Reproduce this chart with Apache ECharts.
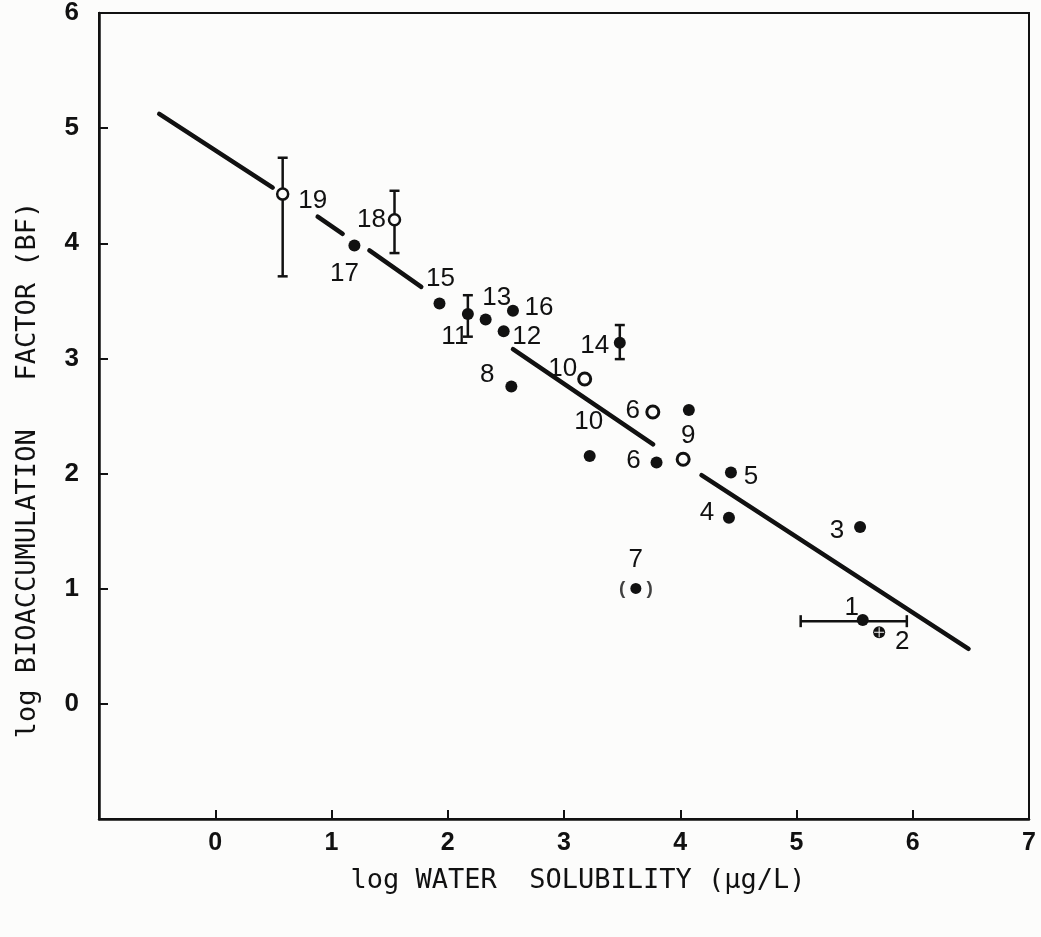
<!DOCTYPE html>
<html><head><meta charset="utf-8">
<script src="https://cdn.jsdelivr.net/npm/echarts@6/dist/echarts.min.js"></script>
<style>html,body{margin:0;padding:0;background:#fcfcfb}#c{width:1041px;height:937px}</style>
</head><body><div id="c"></div>
<script>
// ---- data ----
const pointIds    = ['1','2','3','4','5','6','6o','7','8','9','9f','10','10o','11','12','13','14','15','16','17','18','19'];
const pointLabels = ['1','2','3','4','5','6','6','7','8','9','','10','10','11','12','13','14','15','16','17','18','19'];
const logSolubility = [5.570,5.711,5.547,4.419,4.436,3.796,3.764,3.618,2.547,4.025,4.074,3.221,3.178,2.173,2.481,2.326,3.480,1.929,2.561,1.197,1.542,0.580];
const logBF         = [0.728,0.622,1.535,1.617,2.009,2.096,2.535,1.002,2.757,2.124,2.552,2.153,2.821,3.385,3.237,3.339,3.137,3.478,3.414,3.981,4.205,4.427];
const markerKind    = ['filled','cross','filled','filled','filled','filled','openSmall','filled','filled','openSmall','filled','filled','openSmall','filled','filled','filled','filled','filled','filled','filled','open','open'];

// vertical error bars (log BF range)
const errIds  = ['11','14','18','19'];
const errX    = [2.173,3.480,1.542,0.580];
const errLow  = [3.189,2.994,3.915,3.713];
const errHigh = [3.549,3.290,4.456,4.743];
// horizontal error bar (log solubility range) for point 1
const hErrY    = [0.718];
const hErrLow  = [5.036];
const hErrHigh = [5.949];

// regression line, drawn in broken segments
const fitStartX = [-0.482,0.881,1.326,2.561,4.183];
const fitStartY = [5.123,4.231,3.938,3.080,1.986];
const fitEndX   = [0.494,1.096,1.772,3.767,6.480];
const fitEndY   = [4.484,4.082,3.621,2.254,0.478];

const xTickLabels = ['0','1','2','3','4','5','6','7'];
const yTickLabels = ['0','1','2','3','4','5','6'];

// ---- styles (label placement, px) ----
const labelOffset = {
  '1':[-11,-12],'2':[23,10],'3':[-23,4],'4':[-22,-5],'5':[20,4],'6':[-23,-2],'6o':[-20,-1],
  '7':[0,-29],'8':[-24,-12],'9':[5,-23],'9f':[0,0],'10':[-1,-34],'10o':[-22,-10],'11':[-13,23],
  '12':[23,6],'13':[11,-22],'14':[-25,3],'15':[1,-25],'16':[26,-3],'17':[-10,28],'18':[-23,0],'19':[30,7]
};
const INK = '#111111';
const BG = '#fcfcfb';

const chart = echarts.init(document.getElementById('c'), null, {renderer:'canvas'});

const scatterData = pointIds.map((id,i)=>{
  const k = markerKind[i];
  let size = 12, style = {color:INK, opacity:1};
  if (k==='open') { size = 11; style = {color:BG, borderColor:INK, borderWidth:2.5, opacity:1}; }
  if (k==='openSmall') { size = 12; style = {color:BG, borderColor:INK, borderWidth:3, opacity:1}; }
  if (id==='7') size = 11;
  return {
    value:[logSolubility[i], logBF[i]],
    symbolSize:size,
    itemStyle:style,
    label:{show: pointLabels[i] !== '', formatter: pointLabels[i], position:'inside',
      offset: labelOffset[id], align:'center', verticalAlign:'middle'}
  };
});

const idx7 = pointIds.indexOf('7');
const idx2 = pointIds.indexOf('2');

function renderV(params, api){
  const x = api.value(0), lo = api.value(1), hi = api.value(2);
  const a = api.coord([x, lo]), b = api.coord([x, hi]);
  const c = 5, st = {stroke:INK, lineWidth:2.5};
  return {type:'group', children:[
    {type:'line', shape:{x1:a[0],y1:a[1],x2:b[0],y2:b[1]}, style:st},
    {type:'line', shape:{x1:a[0]-c,y1:a[1],x2:a[0]+c,y2:a[1]}, style:st},
    {type:'line', shape:{x1:b[0]-c,y1:b[1],x2:b[0]+c,y2:b[1]}, style:st}
  ]};
}
function renderH(params, api){
  const y = api.value(0), lo = api.value(1), hi = api.value(2);
  const a = api.coord([lo, y]), b = api.coord([hi, y]);
  const c = 6, st = {stroke:INK, lineWidth:2.5};
  return {type:'group', children:[
    {type:'line', shape:{x1:a[0],y1:a[1],x2:b[0],y2:b[1]}, style:st},
    {type:'line', shape:{x1:a[0],y1:a[1]-c,x2:a[0],y2:a[1]+c}, style:st},
    {type:'line', shape:{x1:b[0],y1:b[1]-c,x2:b[0],y2:b[1]+c}, style:st}
  ]};
}

const lineSeries = fitStartX.map((x0,i)=>({
  type:'line', z:2, silent:true, showSymbol:false, symbol:'none',
  data:[[x0, fitStartY[i]],[fitEndX[i], fitEndY[i]]],
  lineStyle:{color:INK, width:4.5, cap:'round', opacity:1}
}));

chart.setOption({
  backgroundColor:BG,
  animation:false,
  grid:{left:99, right:12, top:13, bottom:118, show:true, borderColor:INK, borderWidth:2, backgroundColor:'transparent'},
  xAxis:{type:'value', min:-1, max:7, interval:1,
    axisLine:{onZero:false, lineStyle:{color:INK, width:2.5}},
    axisTick:{inside:true, length:9, lineStyle:{color:INK, width:2}},
    splitLine:{show:false},
    axisLabel:{margin:12, formatter:v=> (v>=0 ? xTickLabels[v] : ''),
      fontFamily:'Liberation Sans', fontWeight:'bold', fontSize:25, color:INK}
  },
  yAxis:{type:'value', min:-1, max:6, interval:1,
    axisLine:{onZero:false, lineStyle:{color:INK, width:2.5}},
    axisTick:{inside:true, length:9, lineStyle:{color:INK, width:2}},
    splitLine:{show:false},
    axisLabel:{margin:20, formatter:v=> (v>=0 ? yTickLabels[v] : ''),
      fontFamily:'Liberation Sans', fontWeight:'bold', fontSize:26, color:INK}
  },
  graphic:[
    {type:'text', x:28, y:470, rotation:Math.PI/2, silent:true,
      style:{text:'log BIOACCUMULATION   FACTOR (BF)', font:'27px "DejaVu Sans Mono"', fill:INK, align:'center', verticalAlign:'middle'}},
    {type:'text', x:578, y:881, silent:true,
      style:{text:'log WATER  SOLUBILITY (μg/L)', font:'27px "DejaVu Sans Mono"', fill:INK, align:'center', verticalAlign:'middle'}}
  ],
  series:[
    ...lineSeries,
    {type:'custom', z:3, silent:true, renderItem:renderV, encode:{x:0, y:[1,2]},
      data: errX.map((x,i)=>[x, errLow[i], errHigh[i]])},
    {type:'custom', z:3, silent:true, renderItem:renderH, encode:{x:[1,2], y:0},
      data: hErrY.map((y,i)=>[y, hErrLow[i], hErrHigh[i]])},
    {type:'scatter', z:5, silent:true, data:scatterData, itemStyle:{opacity:1},
      label:{fontFamily:'Liberation Sans', fontSize:26, color:INK, opacity:1}},
    // cross mark inside point 2
    {type:'scatter', z:6, silent:true,
      symbol:'path://M0,4.5L10,4.5L10,5.5L0,5.5ZM4.5,0L5.5,0L5.5,10L4.5,10Z',
      symbolSize:10, itemStyle:{color:BG, opacity:1},
      data:[[logSolubility[idx2], logBF[idx2]]]},
    // parentheses around point 7
    {type:'scatter', z:6, silent:true, symbolSize:1, itemStyle:{color:'transparent'},
      label:{show:true, position:'inside', formatter:'(    )', fontFamily:'Liberation Sans', fontWeight:'bold', fontSize:19, color:INK, offset:[0,0]},
      data:[[logSolubility[idx7], logBF[idx7]]]}
  ]
});
</script></body></html>
